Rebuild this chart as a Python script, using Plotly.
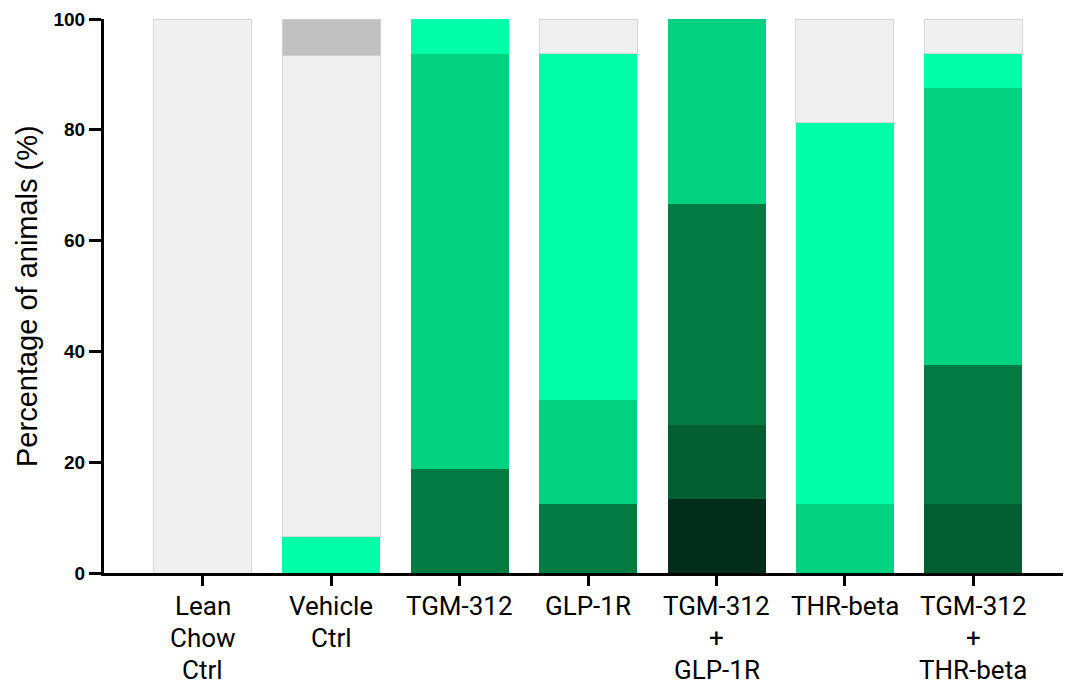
import plotly.graph_objects as go

categories = ["Lean Chow Ctrl", "Vehicle Ctrl", "TGM-312", "GLP-1R",
              "TGM-312 + GLP-1R", "THR-beta", "TGM-312 + THR-beta"]
label_lines = [["Lean", "Chow", "Ctrl"], ["Vehicle", "Ctrl"], ["TGM-312"], ["GLP-1R"],
               ["TGM-312", "+", "GLP-1R"], ["THR-beta"], ["TGM-312", "+", "THR-beta"]]

# stacked from bottom to top (percentage of animals)
darkest = [0, 0, 0, 0, 13.33, 0, 0]
darker = [0, 0, 0, 0, 13.33, 0, 12.5]
dark = [0, 0, 18.75, 12.5, 40.0, 0, 25.0]
mid = [0, 0, 75.0, 18.75, 33.34, 12.5, 50.0]
bright = [0, 6.67, 6.25, 62.5, 0, 68.75, 6.25]
light = [100, 86.66, 0, 6.25, 0, 18.75, 6.25]
gray = [0, 6.67, 0, 0, 0, 0, 0]

yticks = [0, 20, 40, 60, 80, 100]

series = [
    ("darkest", darkest, "#012d1a", None),
    ("darker", darker, "#005e30", None),
    ("dark", dark, "#007b42", None),
    ("mid", mid, "#00d280", None),
    ("bright", bright, "#00ffa8", None),
    ("light", light, "#eff0ef", "#d6d6d6"),
    ("gray", gray, "#c0c0c0", "#d0d0d0"),
]

fig = go.Figure()
for name, vals, color, edge in series:
    yv = [v if v else None for v in vals]
    fig.add_trace(go.Bar(
        x=categories, y=yv, name=name, width=0.763,
        marker=dict(color=color,
                    line=dict(color=edge if edge else color, width=1 if edge else 0)),
        showlegend=False,
    ))

OFF = 8  # default page margin of the html body
W, H = 1071 - OFF, 684 - OFF
ml, mr, mt, mb = 104 - OFF, 0, 19 - OFF, 111
pw = W - ml - mr
ph = H - mt - mb

annotations = []
for cat, lines in zip(categories, label_lines):
    for i, line in enumerate(lines):
        annotations.append(dict(
            x=cat, xref="x", y=0, yref="paper", yanchor="middle",
            yshift=-(33 + 32 * i), text=line, showarrow=False,
            font=dict(family="Roboto", size=26, color="#000000"),
        ))
annotations.append(dict(
    x=(27 - 104) / pw, xref="paper", y=1 - (296 - 19) / ph, yref="paper",
    text="Percentage of animals (%)", textangle=-90, showarrow=False,
    xanchor="center", yanchor="middle",
    font=dict(family="Liberation Sans", size=29, color="#000000"),
))

fig.update_layout(
    barmode="stack",
    width=W, height=H,
    margin=dict(l=ml, r=mr, t=mt, b=mb, autoexpand=False),
    paper_bgcolor="white", plot_bgcolor="white",
    annotations=annotations,
    xaxis=dict(
        range=[-0.77, 6.76], showticklabels=False, ticks="outside",
        ticklen=10, tickwidth=3, tickcolor="black",
        showline=True, linecolor="black", linewidth=3, showgrid=False,
        zeroline=False,
    ),
    yaxis=dict(
        range=[0, 100], tickvals=yticks, ticks="outside", ticklen=12,
        tickwidth=3, tickcolor="black", showline=True, linecolor="black",
        linewidth=3, showgrid=False, zeroline=False,
        tickfont=dict(family="Liberation Sans", size=19, color="black", weight="bold"),
        automargin=False,
    ),
)

fig.write_html("out.html")
